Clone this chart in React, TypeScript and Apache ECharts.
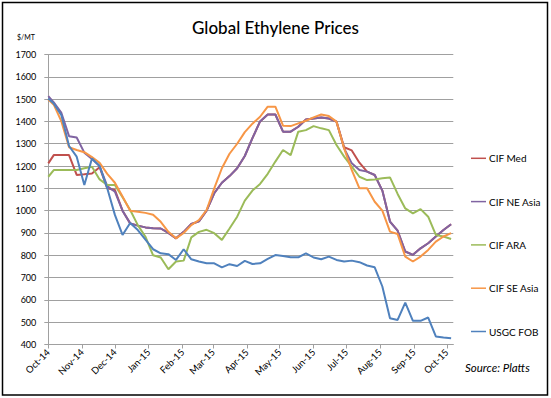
import React, { useEffect, useRef } from "react";
import * as echarts from "echarts";

const dates = [
  "2014-10-01", "2014-10-06", "2014-10-13", "2014-10-20", "2014-10-27", "2014-11-03", "2014-11-10", "2014-11-17",
  "2014-11-24", "2014-12-01", "2014-12-08", "2014-12-15", "2014-12-22", "2014-12-29", "2015-01-05", "2015-01-12",
  "2015-01-19", "2015-01-26", "2015-02-02", "2015-02-09", "2015-02-16", "2015-02-23", "2015-03-02", "2015-03-09",
  "2015-03-16", "2015-03-23", "2015-03-30", "2015-04-06", "2015-04-13", "2015-04-20", "2015-04-27", "2015-05-04",
  "2015-05-11", "2015-05-18", "2015-05-25", "2015-06-01", "2015-06-08", "2015-06-15", "2015-06-22", "2015-06-29",
  "2015-07-06", "2015-07-13", "2015-07-20", "2015-07-27", "2015-08-03", "2015-08-10", "2015-08-17", "2015-08-24",
  "2015-08-31", "2015-09-07", "2015-09-14", "2015-09-21", "2015-09-28", "2015-10-05",
];

const cifMed = [
  1212, 1249, 1249, 1249, 1160, 1163, 1167, 1195, 1100, 1093,
  1000, 943, 933, 925, 921, 920, 900, 876, 905, 940,
  952, 1000, 1078, 1125, 1155, 1190, 1245, 1325, 1400, 1431,
  1431, 1354, 1354, 1376, 1409, 1413, 1418, 1413, 1399, 1284,
  1270, 1215, 1175, 1160, 1090, 951, 910, 817, 802, 831,
  854, 884, 913, 939,
];
const cifNeAsia = [
  1513, 1485, 1438, 1334, 1328, 1260, 1232, 1200, 1110, 1085,
  1000, 943, 933, 925, 921, 920, 900, 876, 905, 940,
  952, 1000, 1078, 1125, 1155, 1190, 1245, 1325, 1400, 1431,
  1431, 1354, 1354, 1376, 1409, 1413, 1418, 1413, 1399, 1279,
  1212, 1182, 1175, 1160, 1090, 951, 910, 817, 802, 831,
  854, 884, 913, 939,
];
const cifAra = [
  1152, 1182, 1182, 1182, 1182, 1190, 1197, 1140, 1115, 1115,
  1060, 1003, 935, 883, 800, 790, 737, 772, 776, 880,
  905, 914, 899, 869, 920, 973, 1045, 1090, 1120, 1165,
  1220, 1272, 1249, 1354, 1361, 1379, 1369, 1361, 1294, 1242,
  1197, 1152, 1137, 1140, 1145, 1149, 1075, 1010, 988, 1007,
  973, 891, 884, 873,
];
const cifSeAsia = [
  1498, 1475, 1400, 1284, 1272, 1262, 1240, 1215, 1165, 1125,
  1063, 1000, 995, 990, 982, 950, 905, 876, 900, 935,
  958, 1003, 1100, 1190, 1255, 1300, 1352, 1390, 1421, 1466,
  1466, 1381, 1379, 1391, 1403, 1418, 1431, 1424, 1399, 1279,
  1182, 1100, 1100, 1040, 1000, 906, 895, 794, 772, 794,
  824, 861, 884, 899,
];
const usgcFob = [
  1503, 1480, 1428, 1290, 1242, 1115, 1234, 1200, 1100, 981,
  891, 945, 913, 870, 827, 809, 805, 779, 827, 782,
  772, 764, 764, 746, 760, 752, 775, 761, 764, 784,
  801, 797, 791, 791, 809, 790, 782, 794, 779, 772,
  776, 769, 754, 746, 660, 518, 510, 588, 506, 506,
  521, 436, 431, 428,
];

const seriesNames = ["CIF Med", "CIF NE Asia", "CIF ARA", "CIF SE Asia", "USGC FOB"];
const seriesColors = ["#C0504D", "#8064A2", "#9BBB59", "#F79646", "#4F81BD"];
const seriesValues = [cifMed, cifNeAsia, cifAra, cifSeAsia, usgcFob];

const monthStarts = [
  "2014-10-01", "2014-11-01", "2014-12-01", "2015-01-01", "2015-02-01", "2015-03-01", "2015-04-01",
  "2015-05-01", "2015-06-01", "2015-07-01", "2015-08-01", "2015-09-01", "2015-10-01",
];
const monthLabels = [
  "Oct-14", "Nov-14", "Dec-14", "Jan-15", "Feb-15", "Mar-15", "Apr-15",
  "May-15", "Jun-15", "Jul-15", "Aug-15", "Sep-15", "Oct-15",
];
const axisMin = "2014-10-01";
const axisMax = "2015-10-07";

const DAY = 86400000;
// day number (UTC based) so that no DST shifts occur
const toDay = (s: string) => {
  const [y, m, d] = s.split("-").map(Number);
  return Date.UTC(y, m - 1, d) / DAY;
};

export default function App() {
  const ref = useRef<HTMLDivElement>(null);
  useEffect(() => {
    if (!ref.current) return;
    const chart = echarts.init(ref.current, null, { renderer: "svg" });
    const monthDays = monthStarts.map(toDay);
    const labelMap = new Map<number, string>();
    monthDays.forEach((t, i) => labelMap.set(t, monthLabels[i]));
    const font = "Lato";
    const gray = "#A0A0A0";
    chart.setOption({
      animation: false,
      textStyle: { fontFamily: font },
      grid: { left: 48.3, right: 97.7, top: 54.5, bottom: 53.5, containLabel: false },
      xAxis: {
        type: "value",
        min: toDay(axisMin),
        max: toDay(axisMax),
        axisLine: { show: true, onZero: false, lineStyle: { color: gray, width: 1 } },
        axisTick: { show: true, length: 4, lineStyle: { color: gray }, customValues: monthDays },
        axisLabel: {
          customValues: monthDays,
          formatter: (v: number) => labelMap.get(Math.round(v)) ?? "",
          rotate: 45,
          margin: 6,
          fontSize: 9.5,
          color: "#000",
          fontFamily: font,
          showMinLabel: true,
          showMaxLabel: true,
        },
        splitLine: { show: false },
      },
      yAxis: {
        type: "value",
        min: 400,
        max: 1700,
        interval: 100,
        axisLine: { show: true, lineStyle: { color: gray, width: 1 } },
        axisTick: { show: true, length: 4, lineStyle: { color: gray } },
        axisLabel: {
          fontSize: 9,
          color: "#000",
          margin: 12,
          fontFamily: font,
          formatter: (v: number) => String(v),
        },
        splitLine: { show: true, lineStyle: { color: gray, width: 1 } },
      },
      legend: {
        orient: "vertical",
        left: 466,
        top: 146.3,
        icon: "rect",
        itemWidth: 15,
        itemHeight: 1.5,
        itemGap: 29.3,
        textStyle: { fontSize: 10, color: "#000", fontFamily: font, lineHeight: 14, padding: [0, 0, 0, -2] },
        data: seriesNames,
      },
      series: seriesNames.map((name, si) => ({
        name,
        type: "line",
        symbol: "none",
        color: seriesColors[si],
        lineStyle: { width: 2, color: seriesColors[si] },
        data: dates.map((d, i) => [toDay(d), seriesValues[si][i]]),
      })),
      graphic: [
        {
          type: "rect",
          shape: { x: 2.5, y: 2.5, width: 545, height: 392.5 },
          style: { fill: "none", stroke: "#000", lineWidth: 1.5 },
          silent: true,
        },
        {
          type: "text",
          x: 275.5,
          y: 27,
          style: {
            text: "Global Ethylene Prices",
            fontSize: 17,
            fontFamily: font,
            fontWeight: 500,
            fill: "#000",
            align: "center",
            verticalAlign: "middle",
          },
        },
        {
          type: "text",
          x: 17,
          y: 37,
          style: { text: "$/MT", fontSize: 7, fontFamily: font, fill: "#000", align: "left", verticalAlign: "middle" },
        },
        {
          type: "text",
          x: 465,
          y: 367,
          style: {
            text: "Source: Platts",
            fontSize: 11.5,
            fontStyle: "italic",
            fontFamily: font,
            fill: "#000",
            align: "left",
            verticalAlign: "middle",
          },
        },
      ],
    });
    return () => chart.dispose();
  }, []);
  return <div ref={ref} style={{ position: "fixed", left: 0, top: 0, width: 551, height: 398, background: "#fff" }} />;
}
